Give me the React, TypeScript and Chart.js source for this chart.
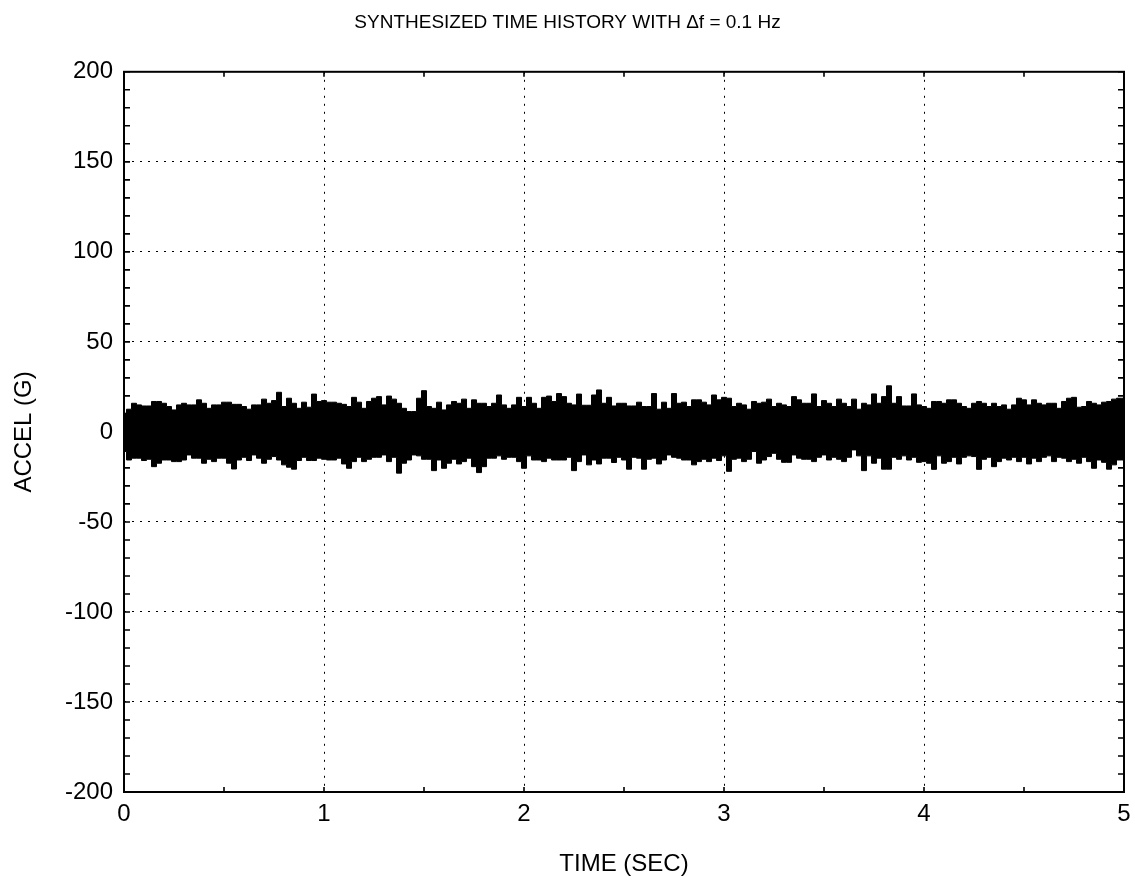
import React, { useEffect, useRef } from "react";
import { Chart, registerables } from "chart.js";

Chart.register(...registerables);

const TITLE = "SYNTHESIZED TIME HISTORY WITH \u0394f = 0.1 Hz";
const X_LABEL = "TIME (SEC)";
const Y_LABEL = "ACCEL (G)";

const X_MIN = 0;
const X_MAX = 5;
const Y_MIN = -200;
const Y_MAX = 200;
const SAMPLE_STEP = 0.025; // seconds between envelope readings

// upper envelope of the acceleration band (G), read every 0.025 s
const UPPER = [
  10.4, 12.6, 15.9, 15.0, 14.4, 14.4, 16.9, 16.9, 15.9, 14.1,
  12.2, 15.0, 15.9, 15.0, 15.0, 17.8, 15.9, 13.1, 15.0, 15.0,
  16.5, 16.5, 15.3, 15.3, 14.1, 12.6, 15.0, 15.0, 18.2, 15.9,
  17.4, 22.0, 14.1, 18.7, 15.9, 13.1, 16.5, 13.7, 21.0, 16.9,
  17.4, 16.5, 16.5, 15.9, 15.3, 14.1, 19.2, 16.5, 13.1, 16.9,
  18.7, 19.6, 15.0, 19.9, 18.2, 15.9, 13.1, 11.3, 11.3, 18.7,
  22.9, 14.1, 13.1, 16.5, 12.2, 15.0, 16.9, 15.9, 18.2, 13.1,
  17.8, 15.9, 15.9, 14.1, 15.9, 20.5, 15.0, 13.1, 15.0, 19.2,
  14.1,
  19.2, 15.9, 13.1, 19.2, 19.9, 16.9, 21.3, 19.6, 15.9, 15.0,
  21.0, 14.8, 14.8, 20.5, 23.3, 15.9, 19.2, 14.4, 15.9, 15.9,
  14.4, 14.4, 16.5, 14.1, 14.1, 21.3, 12.6, 16.5, 13.1, 21.3,
  15.9, 16.5, 14.1, 17.8, 17.8, 16.5, 15.0, 20.5, 17.8, 19.2,
  18.7, 14.1, 15.9, 15.0, 12.6, 16.9, 15.9, 16.5, 18.2, 14.1,
  15.9, 15.0, 14.1, 19.6, 17.8, 15.9, 15.9, 21.1, 14.1, 17.4,
  15.9, 14.1, 18.2, 15.9, 14.1, 18.2, 12.6, 15.9, 15.0, 21.1,
  15.9, 19.6, 25.6, 15.9, 19.6, 14.4, 14.4, 21.1, 15.0, 14.1,
  13.1, 16.9, 16.9, 15.9, 17.8, 17.8, 15.9, 14.1, 13.1, 15.9,
  16.9, 15.9, 14.1, 15.9, 14.1, 15.0, 12.6, 15.0, 18.7, 17.8,
  15.0, 17.8, 15.9, 15.0, 15.9, 15.9, 13.1, 16.9, 18.7, 19.2,
  13.7, 14.1, 16.9, 15.9, 15.0, 16.5, 16.9, 18.2, 18.7, 18.7,
];

// lower envelope of the acceleration band (G), read every 0.025 s
const LOWER = [
  -10.9, -15.6, -14.6, -14.6, -15.9, -15.2, -19.3, -17.4, -15.6, -15.6,
  -16.5, -16.5, -15.6, -12.8, -14.6, -14.6, -17.4, -15.2, -16.5, -14.6,
  -14.6, -17.4, -20.6, -15.6, -14.1, -15.9, -12.8, -14.6, -17.4, -15.2,
  -13.7, -15.6, -18.3, -19.6, -20.7, -15.9, -14.1, -15.9, -15.9, -14.6,
  -15.2, -15.6, -15.6, -14.6, -17.8, -20.2, -16.5, -14.1, -16.5, -15.2,
  -14.1, -14.1, -12.8, -16.5, -14.1, -22.9, -17.4, -15.6, -12.8, -13.3,
  -15.2, -15.2, -21.5, -15.6, -20.2, -17.4, -15.2, -17.8, -16.5, -14.6,
  -19.3, -22.6, -19.3, -14.6, -14.6, -13.3, -15.2, -14.1, -14.1, -16.5,
  -20.2,
  -13.3, -15.6, -15.6, -16.5, -14.6, -15.6, -15.6, -15.6, -14.1, -21.5,
  -16.5, -12.8, -18.3, -15.6, -17.8, -14.6, -14.6, -17.0, -14.1, -15.6,
  -20.7, -14.1, -14.6, -20.7, -15.2, -14.6, -17.8, -15.6, -12.8, -14.1,
  -14.6, -15.6, -15.6, -18.3, -16.5, -15.2, -16.5, -14.6, -15.9, -13.3,
  -21.9, -15.2, -14.6, -16.5, -15.2, -10.9, -17.4, -15.6, -13.7, -11.9,
  -15.2, -16.9, -16.9, -12.8, -14.6, -15.2, -15.2, -16.5, -14.1, -12.8,
  -15.6, -14.1, -15.2, -16.5, -14.1, -10.0, -13.3, -21.5, -13.3, -17.4,
  -14.6, -20.7, -20.7, -14.1, -15.2, -13.3, -15.6, -14.1, -16.9, -16.5,
  -17.4, -20.8, -13.3, -17.4, -16.5, -14.1, -17.8, -14.1, -13.3, -13.7,
  -20.8, -15.2, -14.1, -19.3, -16.5, -14.6, -15.6, -14.1, -16.5, -14.1,
  -17.8, -14.6, -16.5, -14.1, -13.3, -16.5, -14.1, -14.6, -16.5, -15.2,
  -17.4, -14.1, -16.5, -20.2, -15.6, -16.9, -20.7, -18.3, -15.6, -15.6,
];

// small inward tick marks
const Y_MINOR_TICKS = [
  -200, -190, -180, -170, -160, -150, -140, -130, -120, -110,
  -100, -90, -80, -70, -60, -50, -40, -30, -20, -10, 0,
  10, 20, 30, 40, 50, 60, 70, 80, 90, 100,
  110, 120, 130, 140, 150, 160, 170, 180, 190, 200,
];
const X_MINOR_TICKS = [0, 0.5, 1, 1.5, 2, 2.5, 3, 3.5, 4, 4.5, 5];

const FONT_FAMILY = "'Liberation Sans', Arial, Helvetica, sans-serif";

const frameTicksPlugin = {
  id: "frameTicks",
  afterDatasetsDraw(chart: any) {
    const { ctx, chartArea, scales } = chart;
    const { left, right, top, bottom } = chartArea;
    ctx.save();
    ctx.strokeStyle = "#000";
    ctx.lineWidth = 1.6;
    ctx.setLineDash([]);
    ctx.beginPath();
    for (const v of Y_MINOR_TICKS) {
      const y = scales.y.getPixelForValue(v);
      ctx.moveTo(left, y);
      ctx.lineTo(left + 6, y);
      ctx.moveTo(right, y);
      ctx.lineTo(right - 6, y);
    }
    for (const v of X_MINOR_TICKS) {
      const x = scales.x.getPixelForValue(v);
      ctx.moveTo(x, bottom);
      ctx.lineTo(x, bottom - 5);
      ctx.moveTo(x, top);
      ctx.lineTo(x, top + 5);
    }
    ctx.stroke();
    ctx.lineWidth = 2;
    ctx.strokeRect(left, top, right - left, bottom - top);
    ctx.restore();
  },
};

export default function App() {
  const canvasRef = useRef<HTMLCanvasElement | null>(null);

  useEffect(() => {
    if (!canvasRef.current) return;
    const times = UPPER.map((_, i) => i * SAMPLE_STEP);
    const upperPts = UPPER.map((v, i) => ({ x: times[i], y: v }));
    const lowerPts = LOWER.map((v, i) => ({ x: times[i], y: v }));

    const chart = new Chart(canvasRef.current, {
      type: "line",
      data: {
        datasets: [
          {
            label: "upper",
            data: upperPts,
            borderColor: "#000",
            backgroundColor: "#000",
            borderWidth: 1,
            pointRadius: 0,
            stepped: "middle",
            fill: "+1",
          },
          {
            label: "lower",
            data: lowerPts,
            borderColor: "#000",
            backgroundColor: "#000",
            borderWidth: 1,
            pointRadius: 0,
            stepped: "middle",
            fill: false,
          },
        ],
      },
      options: {
        responsive: false,
        animation: false,
        events: [],
        layout: { padding: { left: 0, right: 0, top: 0, bottom: 0 } },
        plugins: {
          legend: { display: false },
          tooltip: { enabled: false },
          title: {
            display: true,
            text: TITLE,
            color: "#000",
            font: { family: FONT_FAMILY, size: 19, weight: "normal" },
            padding: { top: 11, bottom: 38 },
          },
        },
        scales: {
          x: {
            type: "linear",
            min: X_MIN,
            max: X_MAX,
            afterFit(scale: any) {
              scale.height = 89;
              scale.paddingLeft = 0;
              scale.paddingRight = 11;
            },
            ticks: {
              stepSize: 1,
              color: "#000",
              padding: 8,
              font: { family: FONT_FAMILY, size: 24 },
              maxRotation: 0,
            },
            grid: {
              color: "#000",
              lineWidth: 1,
              drawTicks: false,
            },
            border: { display: false, dash: [2, 6] },
            title: {
              display: true,
              text: X_LABEL,
              color: "#000",
              font: { family: FONT_FAMILY, size: 24 },
              padding: { top: 0, bottom: 2 },
            },
          },
          y: {
            type: "linear",
            min: Y_MIN,
            max: Y_MAX,
            afterFit(scale: any) {
              scale.width = 124;
              scale.paddingTop = 0;
              scale.paddingBottom = 0;
            },
            ticks: {
              stepSize: 50,
              color: "#000",
              padding: 11,
              font: { family: FONT_FAMILY, size: 24 },
            },
            grid: {
              color: "#000",
              lineWidth: 1,
              drawTicks: false,
            },
            border: { display: false, dash: [2, 6] },
            title: {
              display: true,
              text: Y_LABEL,
              color: "#000",
              font: { family: FONT_FAMILY, size: 24 },
              padding: { top: 10, bottom: 0 },
            },
          },
        },
      },
      plugins: [frameTicksPlugin],
    });
    return () => chart.destroy();
  }, []);

  return (
    <div style={{ position: "absolute", left: 0, top: 0, width: 1135, height: 881, background: "#fff" }}>
      <canvas ref={canvasRef} width={1135} height={881} style={{ display: "block" }} />
    </div>
  );
}
